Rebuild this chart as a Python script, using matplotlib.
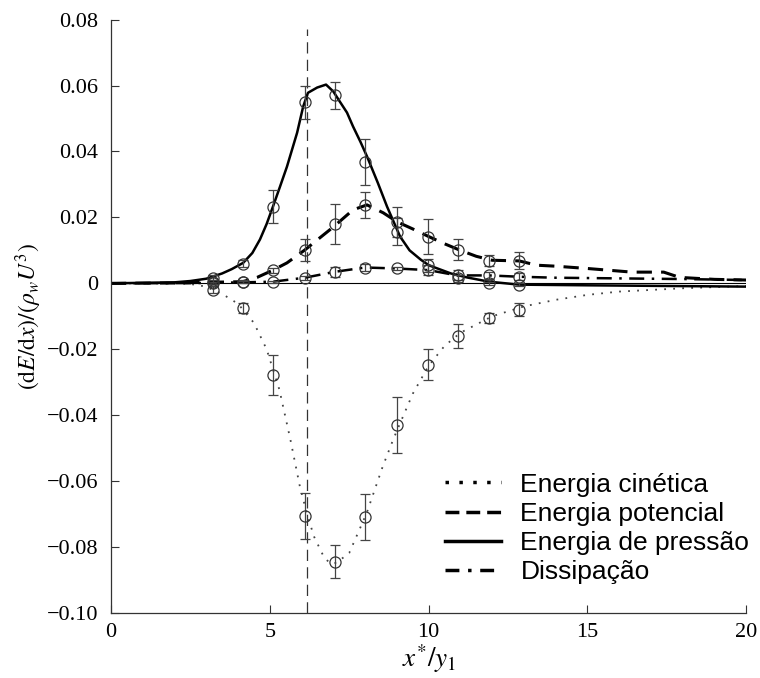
import numpy as np
import matplotlib
matplotlib.use("Agg")
import matplotlib.pyplot as plt
from matplotlib.lines import Line2D

plt.rcParams['font.family'] = ['Liberation Serif', 'DejaVu Serif']
plt.rcParams['mathtext.fontset'] = 'stix'
plt.rcParams['axes.unicode_minus'] = True

# estacoes de medicao
x_pts = [3.2, 4.15, 5.1, 6.1, 7.05, 8.0, 9.0, 9.98, 10.93, 11.9, 12.85]

cin_pts = [-0.0019, -0.0074, -0.0278, -0.0706, -0.0845, -0.0709, -0.043, -0.0247, -0.0159, -0.0105, -0.0080]
cin_err = [0.001, 0.0015, 0.006, 0.007, 0.005, 0.007, 0.0085, 0.0047, 0.0036, 0.0015, 0.002]

pot_pts = [0.0004, 0.0005, 0.0040, 0.0100, 0.0180, 0.0238, 0.0187, 0.0142, 0.0102, 0.0069, 0.0069]
pot_err = [0.0005, 0.0005, 0.0008, 0.0033, 0.006, 0.004, 0.0045, 0.0053, 0.0032, 0.0017, 0.0025]

pre_pts = [0.0017, 0.0060, 0.0233, 0.0550, 0.0570, 0.0367, 0.0157, 0.0055, 0.0015, 0.0000, -0.0004]
pre_err = [0.0008, 0.001, 0.005, 0.005, 0.004, 0.007, 0.004, 0.002, 0.001, 0.0005, 0.0005]

dis_pts = [0.0002, 0.0003, 0.0005, 0.0017, 0.0035, 0.0048, 0.0045, 0.0040, 0.0024, 0.0024, 0.0020]
dis_err = [0.0003, 0.0003, 0.0003, 0.0006, 0.0015, 0.001, 0.0005, 0.0015, 0.0015, 0.001, 0.001]

# curvas
cin_x = [0, 2.0, 2.5, 3.0, 3.2, 3.5, 4.0, 4.5, 4.9, 5.3, 5.65, 5.95, 6.2, 6.4, 6.7, 6.9, 7.1, 7.5, 8.05, 8.55, 8.9, 9.5, 10.0, 10.5, 11.0, 12.0, 13.0, 14.0, 15.0, 16.0, 18.0, 20.0]
cin_y = [0, 0, -0.0002, -0.0010, -0.0020, -0.0032, -0.0062, -0.0120, -0.0200, -0.0322, -0.0475, -0.0618, -0.0710, -0.0770, -0.0830, -0.0850, -0.0848, -0.0818, -0.0697, -0.0557, -0.0470, -0.0335, -0.0250, -0.0190, -0.0150, -0.0100, -0.0070, -0.0050, -0.0035, -0.0025, -0.0015, -0.0008]

pot_x = [0, 2.0, 3.0, 4.15, 4.6, 5.1, 5.54, 6.1, 6.6, 7.0, 7.62, 8.06, 8.57, 9.0, 9.5, 10.0, 10.5, 11.0, 11.5, 12.0, 12.85, 13.4, 14.0, 15.0, 16.4, 17.4, 17.9, 19.0, 20.0]
pot_y = [0, 0.0001, 0.0003, 0.0005, 0.0018, 0.0040, 0.0062, 0.0101, 0.0140, 0.0171, 0.0223, 0.0238, 0.0214, 0.0187, 0.0165, 0.0142, 0.0120, 0.0100, 0.0082, 0.0070, 0.0068, 0.0055, 0.0052, 0.0045, 0.0034, 0.0034, 0.0018, 0.0012, 0.0010]

pre_x = [0, 2.0, 2.5, 3.0, 3.5, 3.8, 4.16, 4.45, 4.69, 4.9, 5.1, 5.32, 5.54, 5.86, 6.05, 6.2, 6.49, 6.77, 7.0, 7.2, 7.43, 7.62, 7.85, 8.06, 8.4, 8.69, 9.1, 9.4, 9.75, 10.0, 10.7, 11.2, 11.9, 12.85, 15.0, 20.0]
pre_y = [0, 0.0003, 0.0007, 0.0014, 0.0030, 0.0043, 0.0062, 0.0092, 0.0133, 0.0180, 0.0233, 0.0293, 0.0354, 0.0457, 0.0536, 0.0578, 0.0594, 0.0603, 0.0582, 0.0552, 0.0518, 0.0476, 0.0430, 0.0385, 0.0305, 0.0233, 0.0142, 0.0100, 0.0072, 0.0055, 0.0030, 0.0018, 0.0005, -0.0004, -0.0006, -0.0010]

dis_x = [0, 3.0, 4.15, 5.1, 6.1, 7.05, 8.0, 9.0, 10.0, 10.9, 11.9, 12.85, 14.0, 16.0, 18.0, 20.0]
dis_y = [0, 0.0001, 0.0003, 0.0005, 0.0017, 0.0035, 0.0048, 0.0045, 0.0040, 0.0024, 0.0024, 0.0020, 0.0017, 0.0015, 0.0013, 0.0010]

x_jato = 6.17

labels = ["Energia cinética", "Energia potencial", "Energia de pressão", "Dissipação"]
ytick_labels = ['\u22120.10', '\u22120.08', '\u22120.06', '\u22120.04', '\u22120.02', '0',
                '0.02', '0.04', '0.06', '0.08']

fig = plt.figure(figsize=(7.6, 6.78), dpi=100)
ax = fig.add_axes([0.146, 0.096, 0.836, 0.875])

ax.axhline(0, color='black', lw=0.8, zorder=1)
ax.axvline(x_jato, ymax=0.985, color='#333333', lw=0.9, ls=(0, (9, 5)), zorder=1)

ax.plot(cin_x, cin_y, color='#444444', lw=1.3, ls=(0, (1, 4)))
ax.plot(pot_x, pot_y, color='black', lw=2.2, ls=(0, (5, 3)))
ax.plot(pre_x, pre_y, color='black', lw=1.8, ls='-')
ax.plot(dis_x, dis_y, color='black', lw=1.8, ls=(0, (6, 3, 1, 3)))

for pts, err in [(cin_pts, cin_err), (pot_pts, pot_err), (pre_pts, pre_err), (dis_pts, dis_err)]:
    ax.errorbar(x_pts, pts, yerr=err, fmt='o', mfc='none', mec='#333333', ms=8,
                mew=0.9, ecolor='#444444', elinewidth=0.9, capsize=3.5, capthick=0.9)

ax.set_xlim(0, 20)
ax.set_ylim(-0.10, 0.08)
ax.set_xticks([0, 5, 10, 15, 20])
ax.set_yticks(np.arange(-0.10, 0.081, 0.02))
ax.set_yticklabels(ytick_labels)
for s in ['top', 'right']:
    ax.spines[s].set_visible(False)
for s in ['left', 'bottom']:
    ax.spines[s].set_color('#333333')
    ax.spines[s].set_linewidth(0.9)
ax.tick_params(direction='in', length=6, width=0.8, labelsize=16, color='#333333', pad=9)
ax.tick_params(axis='x', pad=7)

ax.set_ylabel(r'$(\mathrm{d}E/\mathrm{d}x)/(\rho_w U^3)$', fontsize=17, labelpad=2)
# rotulo do eixo x posto a mao, encostado na borda de baixo
fig.text(0.564, 0.004, r'$x^{*}/y_1$', fontsize=19.5, ha='center', va='bottom')

handles = [Line2D([], [], color='black', lw=2.5, ls=(0, (1, 3))),
           Line2D([], [], color='black', lw=2.5, ls=(0, (4, 2))),
           Line2D([], [], color='black', lw=2.5, ls='-'),
           Line2D([], [], color='black', lw=2.5, ls=(0, (4, 2.5, 1, 2.5)))]
ax.legend(handles, labels, loc='lower right', bbox_to_anchor=(1.042, 0.008), frameon=False,
          prop={'family': 'Liberation Sans', 'size': 19}, handlelength=2.1,
          handletextpad=0.75, labelspacing=0.2)

fig.savefig('out.png', dpi=100)
